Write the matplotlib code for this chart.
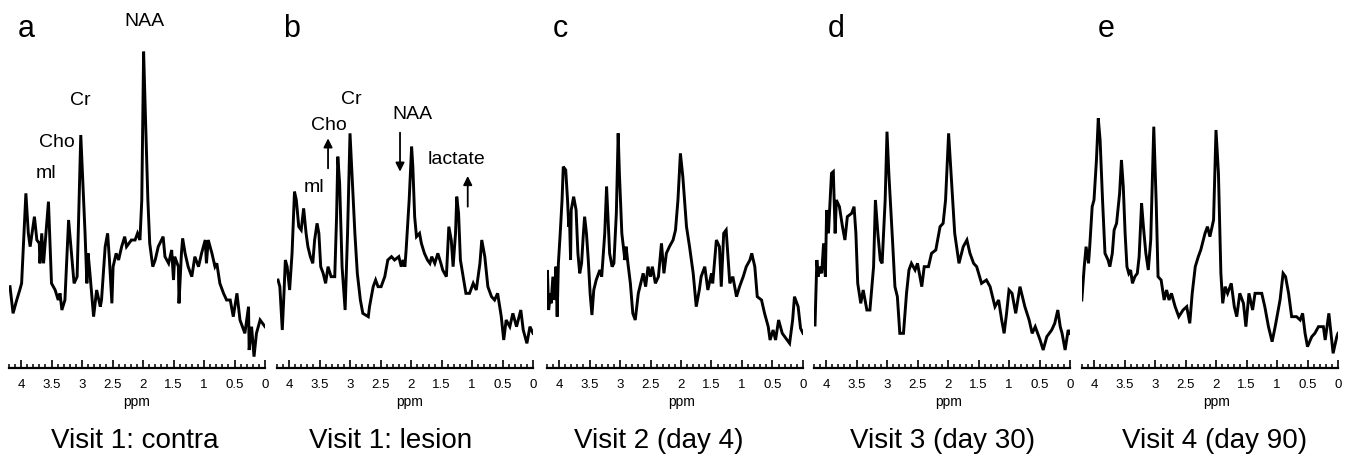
import matplotlib
matplotlib.use("Agg")
import matplotlib.pyplot as plt
from matplotlib.ticker import MultipleLocator, FuncFormatter

plt.rcParams['font.family'] = ['Liberation Sans', 'DejaVu Sans']

# ---- data (chemical shift in ppm, signal intensity in arbitrary units) ----
a_ppm = [4.18,4.13,4.07,4.02,3.99,3.92,3.88,3.85,3.78,3.74,
         3.70,3.69,3.66,3.63,3.55,3.50,3.44,3.39,3.36,3.33,
         3.28,3.22,3.13,3.08,3.02,2.95,2.92,2.90,2.87,2.81,
         2.76,2.70,2.68,2.62,2.58,2.55,2.51,2.49,2.44,2.40,
         2.35,2.30,2.27,2.19,2.13,2.09,2.05,2.02,1.99,1.96,
         1.92,1.89,1.84,1.80,1.75,1.67,1.64,1.58,1.53,1.50,
         1.48,1.42,1.41,1.37,1.35,1.31,1.26,1.20,1.15,1.09,
         1.04,0.98,0.96,0.93,0.87,0.82,0.79,0.74,0.68,0.63,
         0.57,0.52,0.46,0.41,0.33,0.27,0.26,0.22,0.18,0.14,
         0.08,0.00]
a_int = [245,165,205,235,255,525,405,365,455,385,
         375,315,405,315,500,255,235,205,225,175,
         205,445,255,275,700,405,255,345,285,155,
         235,185,205,365,405,325,195,305,345,325,
         365,395,365,385,385,405,385,505,950,755,
         505,375,305,325,365,395,335,315,355,265,
         335,305,195,345,390,345,305,275,335,305,
         345,385,315,385,345,305,315,255,225,205,
         205,155,225,145,105,185,55,125,35,105,
         145,125]

b_ppm = [4.18,4.15,4.11,4.08,4.06,4.03,3.99,3.95,3.91,3.88,
         3.84,3.80,3.76,3.72,3.69,3.65,3.61,3.58,3.54,3.51,
         3.48,3.44,3.40,3.36,3.31,3.25,3.22,3.20,3.17,3.13,
         3.08,3.04,3.00,2.96,2.92,2.88,2.83,2.79,2.70,2.68,
         2.62,2.58,2.54,2.49,2.43,2.38,2.32,2.27,2.20,2.16,
         2.13,2.10,2.08,2.03,1.99,1.97,1.94,1.91,1.86,1.83,
         1.78,1.73,1.69,1.66,1.61,1.56,1.51,1.48,1.42,1.38,
         1.34,1.31,1.27,1.25,1.22,1.19,1.10,1.04,0.98,0.93,
         0.87,0.84,0.79,0.74,0.68,0.63,0.58,0.52,0.48,0.44,
         0.38,0.33,0.27,0.20,0.16,0.10,0.05,0.00]
b_int = [265,245,115,235,325,305,235,345,530,505,
         425,415,480,405,365,335,315,385,435,405,
         305,285,255,305,275,275,455,635,555,305,
         175,405,705,555,405,285,205,165,155,185,
         245,265,245,245,275,325,335,325,335,305,
         325,305,355,505,665,605,455,395,405,375,
         345,325,315,335,315,345,315,295,275,425,
         385,305,405,515,465,325,225,225,255,235,
         315,385,335,245,215,205,225,155,85,145,
         125,165,125,175,115,75,125,105]

c_ppm = [4.21,4.19,4.17,4.14,4.13,4.10,4.07,4.05,4.03,4.01,
         3.98,3.95,3.93,3.89,3.86,3.84,3.83,3.81,3.80,3.76,
         3.72,3.69,3.66,3.63,3.60,3.58,3.55,3.52,3.49,3.46,
         3.43,3.39,3.33,3.30,3.25,3.22,3.20,3.17,3.13,3.10,
         3.06,3.03,3.01,2.97,2.92,2.90,2.87,2.83,2.79,2.75,
         2.70,2.66,2.62,2.58,2.54,2.50,2.47,2.42,2.37,2.32,
         2.28,2.24,2.19,2.13,2.09,2.05,2.01,1.97,1.91,1.86,
         1.80,1.75,1.70,1.67,1.61,1.56,1.50,1.48,1.42,1.37,
         1.34,1.30,1.26,1.20,1.15,1.09,1.04,0.98,0.93,0.87,
         0.84,0.79,0.75,0.68,0.63,0.57,0.54,0.49,0.45,0.40,
         0.34,0.22,0.17,0.14,0.08,0.04,0.00]
c_int = [215,295,175,225,195,275,205,305,155,315,
         405,505,605,595,505,425,465,325,475,515,
         475,345,285,315,405,455,405,325,225,160,
         235,265,295,275,405,545,465,345,305,315,
         465,705,585,405,325,365,315,255,165,145,
         225,255,285,245,305,275,305,255,275,375,
         285,345,365,385,415,505,645,575,425,365,
         285,185,235,275,305,235,285,255,385,365,
         245,405,415,255,275,215,245,275,305,325,
         345,305,215,205,165,125,85,115,85,145,
         105,75,145,215,185,120,105]

d_ppm = [4.18,4.15,4.13,4.10,4.07,4.04,4.01,3.99,3.96,3.91,
         3.88,3.85,3.83,3.78,3.73,3.69,3.65,3.58,3.54,3.51,
         3.48,3.43,3.39,3.33,3.28,3.22,3.19,3.15,3.11,3.08,
         3.03,3.00,2.97,2.91,2.87,2.83,2.79,2.73,2.68,2.64,
         2.60,2.54,2.50,2.43,2.39,2.32,2.27,2.20,2.13,2.08,
         2.04,1.99,1.94,1.89,1.82,1.75,1.69,1.64,1.58,1.53,
         1.45,1.37,1.31,1.23,1.17,1.12,1.08,1.04,1.00,0.95,
         0.89,0.82,0.74,0.67,0.62,0.57,0.49,0.44,0.38,0.30,
         0.25,0.20,0.16,0.13,0.08,0.03,0.00]
d_int = [130,325,275,305,285,375,275,475,405,585,
         590,405,505,485,425,385,455,465,485,405,
         255,195,235,175,175,305,505,405,325,315,
         505,710,585,385,245,215,105,105,225,295,
         315,295,315,245,305,305,345,355,425,435,
         505,705,555,405,315,365,385,345,315,305,
         255,265,245,185,205,145,105,165,235,225,
         165,245,185,145,105,125,85,55,95,115,
         135,175,125,105,55,115,105]

e_ppm = [4.20,4.16,4.13,4.09,4.07,4.03,4.00,3.96,3.93,3.90,
         3.86,3.82,3.77,3.74,3.70,3.67,3.63,3.58,3.55,3.52,
         3.49,3.46,3.43,3.40,3.37,3.33,3.29,3.26,3.22,3.19,
         3.15,3.11,3.07,3.02,2.98,2.95,2.90,2.85,2.81,2.77,
         2.73,2.67,2.61,2.54,2.48,2.43,2.39,2.34,2.29,2.25,
         2.18,2.14,2.10,2.04,2.00,1.96,1.92,1.89,1.85,1.81,
         1.75,1.70,1.66,1.61,1.55,1.51,1.46,1.40,1.36,1.25,
         1.20,1.14,1.08,1.03,1.01,0.95,0.90,0.86,0.81,0.76,
         0.68,0.62,0.58,0.54,0.50,0.43,0.38,0.32,0.24,0.21,
         0.15,0.08,0.02,0.00]
e_int = [205,305,365,315,365,485,505,625,750,685,
         505,345,325,305,345,415,435,525,625,545,
         405,305,285,295,255,275,285,335,495,425,
         345,295,385,725,495,275,265,205,235,205,
         225,185,155,175,185,135,225,305,335,355,
         405,425,395,445,715,585,285,195,245,225,
         255,185,155,225,195,125,225,175,225,225,
         185,125,80,125,145,205,285,275,225,155,
         155,145,165,105,65,95,105,125,125,85,
         165,45,95,105]

panel_ppm = [a_ppm, b_ppm, c_ppm, d_ppm, e_ppm]
panel_int = [a_int, b_int, c_int, d_int, e_int]
panel_letters = ['a', 'b', 'c', 'd', 'e']
panel_titles = ['Visit 1: contra', 'Visit 1: lesion', 'Visit 2 (day 4)',
                'Visit 3 (day 30)', 'Visit 4 (day 90)']

# metabolite labels (text, ppm, intensity)
a_labels = [('NAA', 1.98, 1042), ('Cr', 3.03, 803), ('Cho', 3.41, 677), ('ml', 3.59, 585)]
b_labels = [('Cr', 2.98, 805), ('Cho', 3.34, 727), ('ml', 3.59, 542),
            ('NAA', 1.98, 762), ('lactate', 1.26, 627)]
# arrows in panel b: (ppm, tail intensity, head intensity)
b_arrows = [(3.36, 600, 690), (2.18, 707, 590), (1.07, 485, 577)]

# ---- layout ----
W, H = 1351, 458
fig = plt.figure(figsize=(W / 100, H / 100), dpi=100)

panel_left_px = [8.8, 276.8, 546.8, 813.8, 1081.8]
letter_x_px = [18, 283, 553, 828, 1098]
title_x_px = [135, 391, 659, 943, 1215]
ppm_x_px = [137, 410, 682, 949, 1217]
ax_w_px = 256.2
ax_bottom_px = 368
ax_top_px = 10

axes = []
for i in range(5):
    ax = fig.add_axes([panel_left_px[i] / W, (H - ax_bottom_px) / H,
                       ax_w_px / W, (ax_bottom_px - ax_top_px) / H])
    ax.plot(panel_ppm[i], panel_int[i], color='black', lw=2.1,
            solid_joinstyle='miter')
    ax.set_xlim(4.2, 0)
    ax.set_ylim(1, 1075)
    for s in ['top', 'left', 'right']:
        ax.spines[s].set_visible(False)
    ax.spines['bottom'].set_linewidth(1.6)
    ax.set_yticks([])
    ax.patch.set_alpha(0)
    ax.xaxis.set_major_locator(MultipleLocator(0.5))
    ax.xaxis.set_minor_locator(MultipleLocator(0.1))
    ax.xaxis.set_major_formatter(FuncFormatter(lambda v, p: '%g' % round(v, 2)))
    ax.tick_params(axis='x', which='major', direction='in', length=6, width=1.2,
                   labelsize=9.5, pad=8, color='black')
    ax.tick_params(axis='x', which='minor', direction='in', length=3.2, width=1.1,
                   color='black')
    fig.text(letter_x_px[i] / W, (H - 37) / H, panel_letters[i], fontsize=22,
             ha='left', va='baseline')
    fig.text(ppm_x_px[i] / W, (H - 406) / H, 'ppm', fontsize=10,
             ha='center', va='baseline')
    fig.text(title_x_px[i] / W, (H - 448) / H, panel_titles[i], fontsize=20,
             ha='center', va='baseline')
    axes.append(ax)

for txt, x, y in a_labels:
    axes[0].text(x, y, txt, fontsize=14, ha='center', va='center', clip_on=False)
for txt, x, y in b_labels:
    axes[1].text(x, y, txt, fontsize=14, ha='center', va='center', clip_on=False)
for x, y0, y1 in b_arrows:
    axes[1].annotate('', xy=(x, y1), xytext=(x, y0),
                     arrowprops=dict(arrowstyle='-|>', color='black', lw=1.3,
                                     mutation_scale=13, shrinkA=0, shrinkB=0))

fig.savefig('out.png', dpi=100)
